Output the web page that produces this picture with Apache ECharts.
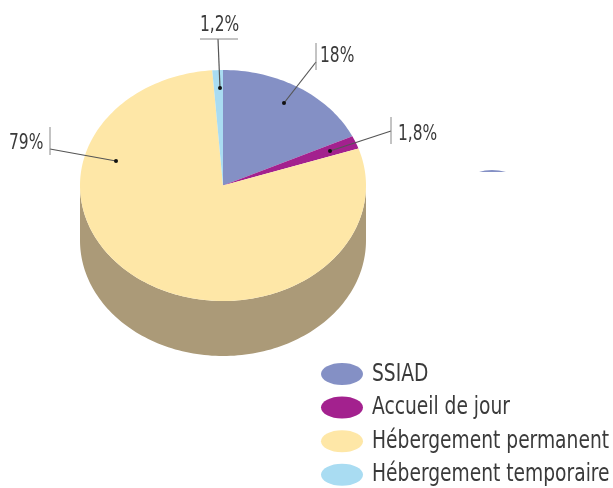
<!DOCTYPE html>
<html>
<head>
<meta charset="utf-8">
<script src="https://cdn.jsdelivr.net/npm/echarts@6/dist/echarts.min.js"></script>
<style>
  html, body { margin: 0; padding: 0; background: #fff; }
  #chart { width: 613px; height: 488px; }
</style>
</head>
<body>
<div id="chart"></div>
<script>
var categories = ['SSIAD', 'Accueil de jour', 'Hébergement permanent', 'Hébergement temporaire'];
var values = [18, 1.8, 79, 1.2];
var valueLabels = ['18%', '1,8%', '79%', '1,2%'];
var colors = ['#8490c5', '#a3218e', '#fee7a7', '#a9dcf2'];

var FONT = '"DejaVu Sans Condensed", "Liberation Sans", sans-serif';
var TEXT = '#3a3a3a';
var cx = 223, cy = 185.5, rx = 143, ry = 115.5, depth = 55;

var total = values.reduce(function (a, b) { return a + b; }, 0);

function arcPoints(a0, a1, dy) {
  // angles in degrees, clockwise from the top of the ellipse
  var pts = [];
  var n = Math.max(2, Math.ceil(Math.abs(a1 - a0) / 1.5));
  for (var i = 0; i <= n; i++) {
    var a = (a0 + (a1 - a0) * i / n) * Math.PI / 180;
    pts.push([cx + rx * Math.sin(a), cy - ry * Math.cos(a) + dy]);
  }
  return pts;
}

function renderSlice(params) {
  var idx = params.dataIndex;
  var start = 0;
  for (var i = 0; i < idx; i++) start += values[i];
  var a0 = start / total * 360;
  var a1 = (start + values[idx]) / total * 360;
  var children = [];

  // the wall only shows between 90 and 270 degrees
  var w0 = Math.max(a0, 90), w1 = Math.min(a1, 270);
  if (w1 > w0) {
    children.push({
      type: 'polygon',
      shape: { points: arcPoints(w0, w1, 0).concat(arcPoints(w1, w0, depth)) },
      style: { fill: '#ab9a78' }
    });
  }
  children.push({
    type: 'polygon',
    shape: { points: [[cx, cy]].concat(arcPoints(a0, a1, 0)) },
    style: { fill: colors[idx] }
  });
  return { type: 'group', children: children };
}

function leader(points, dot) {
  return [
    { type: 'polyline', z: 10, shape: { points: points }, style: { stroke: '#555', lineWidth: 1.2, fill: null } },
    { type: 'circle', z: 11, shape: { cx: dot[0], cy: dot[1], r: 2 }, style: { fill: '#111' } }
  ];
}
function bar(x1, y1, x2, y2) {
  return { type: 'line', z: 10, shape: { x1: x1, y1: y1, x2: x2, y2: y2 }, style: { stroke: '#888', lineWidth: 1 } };
}
function label(text, x, y, size, squeeze) {
  return {
    type: 'text', z: 10, x: x, y: y, scaleX: squeeze,
    style: { text: text, font: size + 'px ' + FONT, fill: TEXT, verticalAlign: 'middle' }
  };
}

var graphics = [].concat(
  leader([[316, 62], [284, 103]], [284, 103]), bar(316, 43, 316, 70), label(valueLabels[0], 320, 56, 22, 0.78),
  leader([[391, 131], [330, 151]], [330, 151]), bar(391, 117, 391, 144), label(valueLabels[1], 398, 134, 22, 0.78),
  leader([[50, 149], [116, 161]], [116, 161]), bar(50, 127, 50, 155), label(valueLabels[2], 9, 143, 22, 0.78),
  leader([[218, 39], [220, 88]], [220, 88]), bar(200, 39, 238, 39), label(valueLabels[3], 200, 25, 22, 0.78),
  // cut-off remnant on the right of the scan
  [{ type: 'polygon', z: 1, shape: { points: [[479, 172], [485, 170.5], [492, 170], [499, 170.5], [506, 172]] }, style: { fill: '#8490c5' } }]
);

categories.forEach(function (name, i) {
  var rowY = 374 + i * 33.6;
  graphics.push({ type: 'ellipse', z: 10, shape: { cx: 342, cy: rowY, rx: 21, ry: 11 }, style: { fill: colors[i] } });
  graphics.push(label(name, 372, rowY, 25, 0.83));
});

var chart = echarts.init(document.getElementById('chart'), null, { renderer: 'canvas' });
chart.setOption({
  animation: false,
  backgroundColor: '#fff',
  series: [{
    type: 'custom',
    coordinateSystem: null,
    silent: true,
    data: values,
    renderItem: renderSlice
  }],
  graphic: graphics
});
</script>
</body>
</html>
